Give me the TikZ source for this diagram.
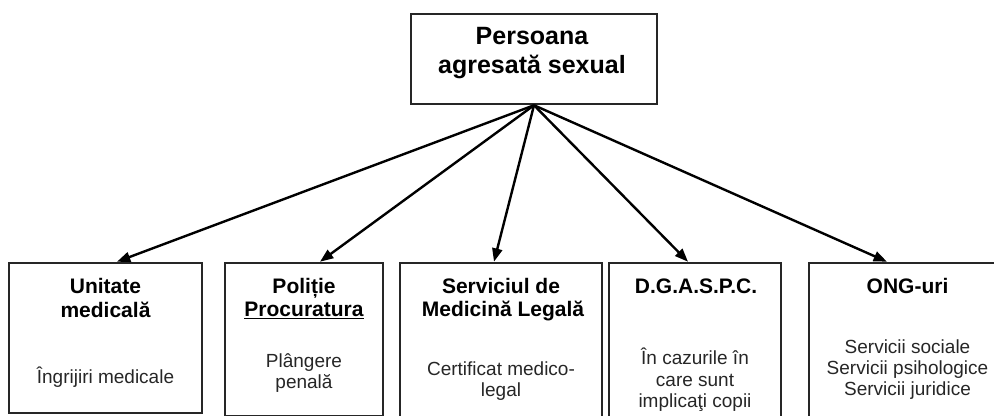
\documentclass[tikz,border=0pt]{standalone}
\usepackage{fontspec}
\setmainfont{Liberation Sans}
\usetikzlibrary{arrows.meta}
\tikzset{
  box/.style={draw=black!85, line width=1.9pt, inner sep=0pt, fill=none},
  title/.style={font=\bfseries\fontsize{18.75pt}{21pt}\selectfont, anchor=base, inner sep=0pt},
  head/.style={font=\bfseries\fontsize{15.75pt}{18pt}\selectfont, anchor=base, inner sep=0pt},
  body/.style={font=\fontsize{14.25pt}{16pt}\selectfont, text=black!85, anchor=base, inner sep=0pt},
  arr/.style={line width=1.8pt, -{Triangle[length=10pt,width=7.5pt]}}
}
\begin{document}
\begin{tikzpicture}[x=0.75pt,y=-0.75pt]
\useasboundingbox (0,0) rectangle (994,416);
% boxes
\node[box, minimum width=184.5pt, minimum height=67.5pt] (top) at (534,59) {};
\node[box, minimum width=144.75pt, minimum height=112.5pt] (b1) at (105.5,338) {};
\node[box, minimum width=118.5pt, minimum height=114.75pt] (b2) at (304,339.5) {};
\node[box, minimum width=151.5pt, minimum height=120pt] (b3) at (501,343) {};
\node[box, minimum width=129pt, minimum height=120pt] (b4) at (695,343) {};
\node[box, minimum width=147.75pt, minimum height=120pt] (b5) at (907.5,343) {};
% title
\node[title] (t1) at (532,45) {Persoana};
\node[title] (t2) at (532,74) {agresată sexual};
% box 1
\node[head] (h1a) at (105.5,293) {Unitate};
\node[head] (h1b) at (105.5,317) {medicală};
\node[body] (c1a) at (105.5,383) {Îngrijiri medicale};
% box 2
\node[head] (h2a) at (304,293) {Poliție};
\node[head] (h2b) at (304,316) {\underline{Procuratura}};
\node[body] (c2a) at (304,367) {Plângere};
\node[body] (c2b) at (304,388) {penală};
% box 3
\node[head] (h3a) at (501,293) {Serviciul de};
\node[head] (h3b) at (503,316) {Medicină Legală};
\node[body] (c3a) at (501,375) {Certificat medico-};
\node[body] (c3b) at (501,396) {legal};
% box 4
\node[head] (h4a) at (696,293) {D.G.A.S.P.C.};
\node[body] (c4a) at (695,364) {În cazurile în};
\node[body] (c4b) at (695,386) {care sunt};
\node[body] (c4c) at (695,407) {implicaţi copii};
% box 5
\node[head] (h5a) at (907.5,293) {ONG-uri};
\node[body] (c5a) at (907.5,353) {Servicii sociale};
\node[body] (c5b) at (907.5,374) {Servicii psihologice};
\node[body] (c5c) at (907.5,395) {Servicii juridice};
% arrows
\draw[arr] (top.south) -- ([xshift=8.6pt]b1.north);
\draw[arr] (top.south) -- ([xshift=12pt]b2.north);
\draw[arr] (top.south) -- ([xshift=-5.25pt]b3.north);
\draw[arr] (top.south) -- ([xshift=-5.25pt]b4.north);
\draw[arr] (top.south) -- ([xshift=-15.4pt]b5.north);
\end{tikzpicture}
\end{document}
